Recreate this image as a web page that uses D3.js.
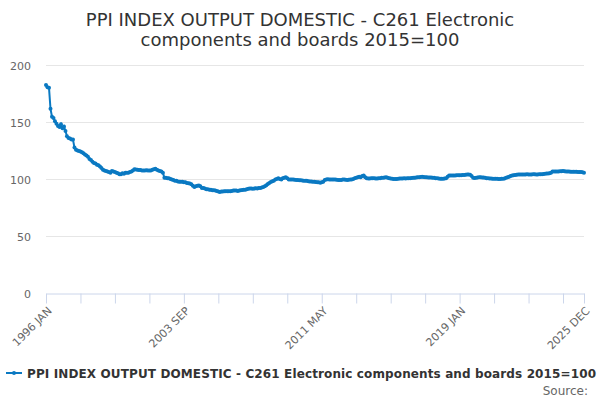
<!DOCTYPE html>
<html>
<head>
<meta charset="utf-8">
<script src="https://cdn.jsdelivr.net/npm/d3@7"></script>
<style>
  body { margin: 0; background: #fff; }
  svg { font-family: "DejaVu Sans", sans-serif; }
</style>
</head>
<body>
<svg width="600" height="400"></svg>
<script>
// **** data ****
var years = d3.range(1996, 2026);
var months = ['JAN','FEB','MAR','APR','MAY','JUN','JUL','AUG','SEP','OCT','NOV','DEC'];

var values = [
  // 1996
  183, 181, 180.5, 162, 155, 154, 151, 149, 147, 146, 148.5, 145,
  // 1997
  146.5, 142.5, 138, 136.5, 136, 135, 135, 128, 126, 125.5, 125, 124.5,
  // 1998
  124, 123, 122, 121, 120, 118, 117, 115.5, 114.5, 114, 113, 112.5,
  // 1999
  111.5, 110, 108.5, 108, 107.5, 107, 106.5, 106, 107.5, 107, 106.5, 106,
  // 2000
  105.5, 104.5, 104.5, 105.5, 105, 106, 106, 106, 106.5, 107, 108, 109,
  // 2001
  108.8, 108.5, 108.3, 108.3, 108, 108, 108, 108.2, 108, 108, 107.8, 108.5,
  // 2002
  109, 109.5, 108.5, 108, 107.4, 107, 106, 101.5, 101.5, 101, 101, 100.5,
  // 2003
  100, 99.5, 99, 98.8, 98.2, 98, 98, 98, 97.5, 97.5, 97, 96.8,
  // 2004
  96.5, 95.8, 94.5, 93.5, 94, 94.5, 94.7, 94, 92.6, 92.6, 92, 91.5,
  // 2005
  91.5, 91, 91, 90.5, 90.5, 90.3, 90, 89.5, 89, 89.5, 89.5, 89.6,
  // 2006
  89.6, 89.8, 89.6, 89.6, 90, 90.3, 90.3, 90.3, 90, 90.3, 90.5, 90.8,
  // 2007
  91, 91, 91.5, 91.8, 92, 92, 91.8, 92, 92.3, 92, 92.5, 92.6,
  // 2008
  93, 93.5, 94, 95, 96, 97, 97.8, 98.5, 99, 100, 100.5, 101,
  // 2009
  100.5, 100, 101, 101.5, 102, 101, 100, 100, 100, 100, 99.8, 99.6,
  // 2010
  99.5, 99.4, 99.3, 99.2, 99, 99, 98.8, 98.5, 98.3, 98.2, 98, 98,
  // 2011
  97.8, 97.5, 97.5, 97.2, 97.5, 98, 99.5, 100, 100.2, 100, 100, 100,
  // 2012
  100, 100, 99.8, 99.6, 99.5, 99.6, 100, 100, 99.8, 99.6, 99.8, 100,
  // 2013
  100, 100.5, 101, 101.5, 102, 102.4, 102, 103, 103.5, 102, 101, 100.8,
  // 2014
  100.8, 101, 101, 101, 100.8, 100.8, 101, 101.2, 101.5, 101.5, 101.8, 102,
  // 2015
  101.5, 101, 100.8, 100.6, 100.5, 100.5, 100.5, 100.6, 100.8, 100.8, 100.8, 101,
  // 2016
  100.8, 101, 101, 101.2, 101.4, 101.5, 101.5, 101.8, 102, 102, 102.2, 102.4,
  // 2017
  102.2, 102, 102, 101.8, 101.8, 101.8, 101.5, 101.5, 101.2, 101, 100.8, 100.6,
  // 2018
  100.6, 100.6, 100.8, 101, 102.5, 103.5, 103.5, 103.6, 103.5, 103.5, 103.8, 103.8,
  // 2019
  103.8, 103.8, 104, 104, 104.2, 104.4, 104.4, 104.2, 103, 101.5, 101.3, 101.5,
  // 2020
  101.8, 102, 102, 101.8, 101.8, 101.5, 101.2, 101, 100.9, 100.8, 100.6, 100.6,
  // 2021
  100.6, 100.6, 100.5, 100.5, 100.6, 100.6, 100.8, 101.5, 102, 102.5, 103, 103.5,
  // 2022
  103.8, 104, 104.2, 104.4, 104.4, 104.4, 104.4, 104.3, 104.4, 104.5, 104.4, 104.4,
  // 2023
  104.4, 104.5, 104.5, 104.4, 104.4, 104.5, 104.6, 104.6, 104.8, 105, 105.3, 105.3,
  // 2024
  105.5, 106, 107, 107, 107, 107, 107, 107.2, 107.2, 107.4, 107.2, 107,
  // 2025
  107, 107, 106.8, 106.8, 106.8, 106.7, 106.7, 106.6, 106.5, 106.5, 106.3, 106
];

var yTicks = [0, 50, 100, 150, 200];
var tickLabels = ['1996 JAN', '2003 SEP', '2011 MAY', '2019 JAN', '2025 DEC'];
var seriesName = 'PPI INDEX OUTPUT DOMESTIC - C261 Electronic components and boards 2015=100';
var titleLines = ['PPI INDEX OUTPUT DOMESTIC - C261 Electronic', 'components and boards 2015=100'];

var categories = [];
years.forEach(function(y) {
    months.forEach(function(m) { categories.push(y + ' ' + m); });
});

// **** scales ****
var svg = d3.select('svg');
var lineColor = '#0a79c2';

var xScale = d3.scalePoint()
    .domain(categories).range([46, 584]);

var yScale = d3.scaleLinear()
    .domain([0, 200]).range([293.5, 65.5]);

// every 23rd month gets a tick, plus the last month
var tickCats = categories.filter(function(d, i) { return i % 23 == 0; });
tickCats.push(categories[categories.length - 1]);

// **** title ****
svg.selectAll('.title')
    .data(titleLines)
    .enter().append('text')
    .attr('class', 'title')
    .attr('x', 300)
    .attr('y', function(d, i) { return 25.5 + i * 20; })
    .attr('text-anchor', 'middle')
    .style('font-size', '18px')
    .style('fill', '#333333')
    .text(function(d) { return d; });

// **** grid + y axis ****
svg.append('g')
    .selectAll('line')
    .data(yTicks.filter(function(d) { return d > 0; }))
    .enter().append('line')
    .attr('x1', 46).attr('x2', 584)
    .attr('y1', function(d) { return yScale(d); })
    .attr('y2', function(d) { return yScale(d); })
    .style('stroke', '#e6e6e6');

var yAxis = svg.append('g')
    .attr('transform', 'translate(31,0)')
    .call(d3.axisLeft(yScale).tickValues(yTicks).tickSize(0).tickPadding(0));
yAxis.select('.domain').remove();
yAxis.selectAll('text')
    .style('font-family', '"DejaVu Sans", sans-serif')
    .style('font-size', '11px')
    .style('fill', '#666666');

// **** x axis ****
var xAxis = svg.append('g')
    .attr('transform', 'translate(0,293.5)')
    .call(d3.axisBottom(xScale).tickValues(tickCats).tickSize(10).tickSizeOuter(0)
        .tickFormat(function(d) { return tickLabels.indexOf(d) >= 0 ? d : ''; }));
xAxis.select('.domain').style('stroke', '#ccd6eb');
xAxis.selectAll('line').style('stroke', '#ccd6eb');
xAxis.selectAll('text')
    .style('font-family', '"DejaVu Sans", sans-serif')
    .style('font-size', '11px')
    .style('fill', '#666666')
    .attr('text-anchor', 'end')
    .attr('dy', null)
    .attr('y', 0)
    .attr('transform', 'translate(6,18) rotate(-45)');

// **** series ****
var line = d3.line()
    .x(function(d, i) { return xScale(categories[i]); })
    .y(function(d) { return yScale(d); });

svg.append('path')
    .datum(values)
    .attr('d', line)
    .style('fill', 'none')
    .style('stroke', lineColor)
    .style('stroke-width', 2);

svg.append('g')
    .selectAll('circle')
    .data(values)
    .enter().append('circle')
    .attr('cx', function(d, i) { return xScale(categories[i]); })
    .attr('cy', function(d) { return yScale(d); })
    .attr('r', 2)
    .style('fill', lineColor);

// **** legend ****
var legend = svg.append('g').attr('transform', 'translate(0,373)');
legend.append('line')
    .attr('x1', 6).attr('x2', 22)
    .style('stroke', lineColor).style('stroke-width', 2);
legend.append('circle')
    .attr('cx', 14).attr('r', 2)
    .style('fill', lineColor);
legend.append('text')
    .attr('x', 27).attr('y', 4.5)
    .attr('textLength', 569)
    .attr('lengthAdjust', 'spacing')
    .style('font-size', '12px')
    .style('font-weight', 'bold')
    .style('fill', '#333333')
    .text(seriesName);

svg.append('text')
    .attr('x', 588).attr('y', 395)
    .attr('text-anchor', 'end')
    .style('font-size', '12px')
    .style('fill', '#666666')
    .text('Source:');
</script>
</body>
</html>
